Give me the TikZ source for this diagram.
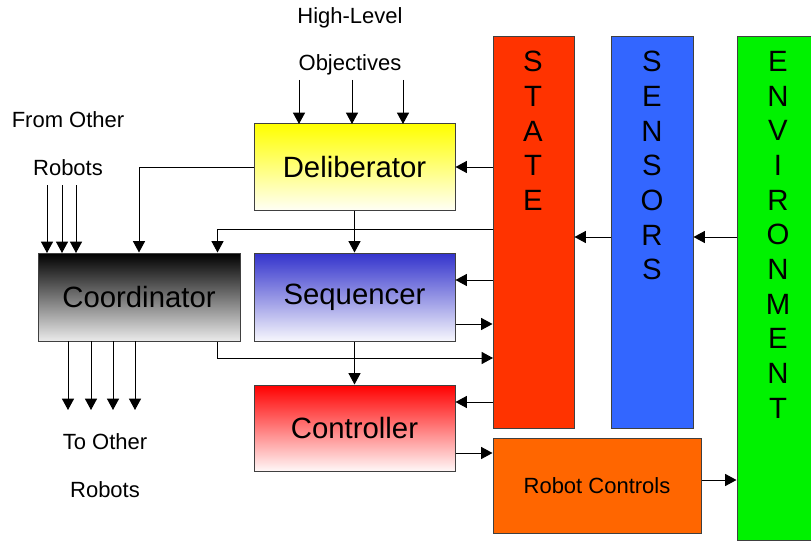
\documentclass[tikz,border=0pt]{standalone}
\usepackage{fontspec}
\setmainfont{Liberation Sans}
\usetikzlibrary{arrows.meta}

\definecolor{stateclr}{RGB}{255,51,0}
\definecolor{sensclr}{RGB}{51,102,255}
\definecolor{envclr}{RGB}{0,242,0}
\definecolor{rcclr}{RGB}{255,102,0}
\definecolor{seqclr}{RGB}{51,51,204}

\begin{document}
\begin{tikzpicture}[x=0.75pt, y=-0.75pt,
        arr/.style={-{Triangle[length=8.5pt,width=9pt]}, line width=0.75pt},
        block/.style={draw=black!75, line width=0.75pt, inner sep=0pt,
            font=\fontsize{22}{26}\selectfont},
        column/.style={draw=black!75, line width=0.75pt, inner sep=0pt},
        letters/.style={align=center, inner sep=0pt, anchor=north,
            font=\fontsize{22}{26}\selectfont},
        note/.style={inner sep=0pt, font=\fontsize{16.5}{18}\selectfont}]
        \useasboundingbox (0,0) rectangle (811,542);

        % columns on the right
        \node[column, fill=stateclr, minimum width=60.75pt, minimum height=293.25pt] (state) at (533.5,232.5) {};
        \node[column, fill=sensclr,  minimum width=61.5pt,  minimum height=293.25pt] (sens)  at (652,232.5)   {};
        \node[column, fill=envclr,   minimum width=62.25pt, minimum height=377.25pt] (env)   at (778.5,288.5) {};
        \node[letters] (statetxt) at (533,51) {S\\T\\A\\T\\E};
        \node[letters] (senstxt)  at (652,51) {S\\E\\N\\S\\O\\R\\S};
        \node[letters] (envtxt)   at (778,51) {E\\N\\V\\I\\R\\O\\N\\M\\E\\N\\T};
        \node[block, fill=rcclr, minimum width=156pt, minimum height=71.25pt,
            font=\fontsize{16.5}{18}\selectfont] (rc) at (597,486) {Robot Controls};

        % layered blocks
        \node[block, top color=yellow, middle color=yellow!85, bottom color=yellow!4, minimum width=150.75pt, minimum height=64.5pt] (delib) at (354.5,167) {Deliberator};
        \node[block, top color=black, middle color=black!65, bottom color=black!8, minimum width=151.5pt, minimum height=66pt] (coord) at (139,297) {Coordinator};
        \node[block, top color=seqclr, middle color=seqclr!70, bottom color=seqclr!4, minimum width=150.75pt, minimum height=66pt] (seq) at (354.5,297) {Sequencer};
        \node[block, top color=red, middle color=red!75, bottom color=red!3, minimum width=150.75pt, minimum height=64.5pt] (ctrl) at (354.5,428) {Controller};

        % free texts
        \node[note] (hl)      at (350,18)  {High-Level};
        \node[note] (obj)     at (350,65)  {Objectives};
        \node[note] (from)    at (68,120)  {From Other};
        \node[note] (fromrob) at (68,168)  {Robots};
        \node[note] (to)      at (105,442) {To Other};
        \node[note] (torob)   at (105,490) {Robots};

        % objectives into the deliberator
        \foreach \x in {299,352,403}
            \draw[arr] (\x,80) -- (\x,124);
        % messages from and to other robots
        \foreach \x in {47,62,76}
            \draw[arr] (\x,185) -- (\x,253);
        \foreach \x in {68,91,113,135}
            \draw[arr] (\x,341) -- (\x,410);

        % taps on the state column
        \coordinate (tapcoord) at (493,229);
        \coordinate (coordout) at (493,358);
        \draw[arr] (delib.west) -| (coord.north);
        \draw[arr] (tapcoord) -| ([xshift=-17.25pt]coord.north east);
        \draw[arr] ([xshift=-17.25pt]coord.south east) |- (coordout);
        \draw[arr] (delib.south) -- (seq.north);
        \draw[arr] (seq.south) -- (ctrl.north);
        \draw[arr] (state.west |- delib.east) -- (delib.east);
        \draw[arr] (state.west |- 0,280) -- (seq.east |- 0,280);
        \draw[arr] (seq.east |- 0,324) -- (state.west |- 0,324);
        \draw[arr] (state.west |- 0,402) -- (ctrl.east |- 0,402);
        \draw[arr] (ctrl.east |- 0,453) -- (rc.west |- 0,453);

        % sensing and acting
        \draw[arr] (sens.west |- 0,237) -- (state.east |- 0,237);
        \draw[arr] (env.west |- 0,237) -- (sens.east |- 0,237);
        \draw[arr] (rc.east |- 0,480) -- (env.west |- 0,480);
    \end{tikzpicture}
\end{document}
